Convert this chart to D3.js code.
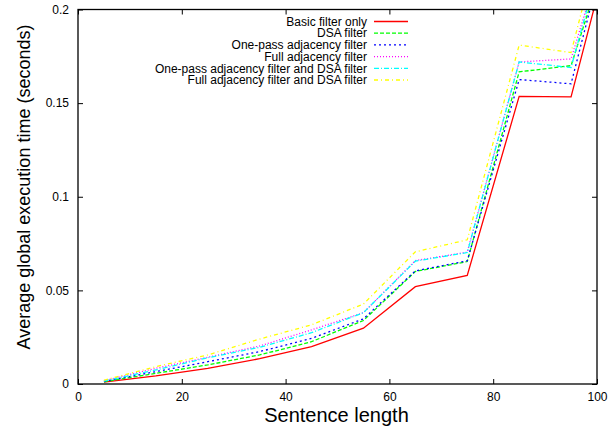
<!DOCTYPE html>
<html>
<head>
<meta charset="utf-8">
<script src="https://cdn.jsdelivr.net/npm/d3@7"></script>
<style>
  body { margin: 0; background: #fff; }
  svg { display: block; font-family: "Liberation Sans", Arial, sans-serif; }
</style>
</head>
<body>
<svg id="chart" width="616" height="428"></svg>
<script>
// sentence length buckets (last one lies past the axis and gets clipped)
const lengths = [5, 15, 25, 35, 45, 55, 65, 75, 85, 95, 105];

const basic = [0.0010, 0.0043, 0.0084, 0.0135, 0.0200, 0.0298, 0.0520, 0.0580, 0.1536, 0.1533, 0.260];
const dsa = [0.0012, 0.0057, 0.0102, 0.0155, 0.0226, 0.0339, 0.0601, 0.0654, 0.1667, 0.1700, 0.257];
const onePass = [0.0014, 0.0066, 0.0119, 0.0173, 0.0244, 0.0348, 0.0604, 0.0658, 0.1626, 0.1603, 0.269];
const fullAdj = [0.0018, 0.0084, 0.0143, 0.0203, 0.0289, 0.0381, 0.0659, 0.0704, 0.1720, 0.1736, 0.265];
const onePassDsa = [0.0016, 0.0075, 0.0140, 0.0196, 0.0274, 0.0381, 0.0656, 0.0702, 0.1720, 0.1690, 0.270];
const fullDsa = [0.0020, 0.0093, 0.0155, 0.0240, 0.0316, 0.0427, 0.0706, 0.0770, 0.1810, 0.1770, 0.285];

const seriesNames = [
  'Basic filter only',
  'DSA filter',
  'One-pass adjacency filter',
  'Full adjacency filter',
  'One-pass adjacency filter and DSA filter',
  'Full adjacency filter and DSA filter'
];
const seriesValues = [basic, dsa, onePass, fullAdj, onePassDsa, fullDsa];

const xTicks = [0, 20, 40, 60, 80, 100];
const yTicks = [0, 0.05, 0.1, 0.15, 0.2];

// gnuplot-ish line styles
const colors = ['#ff0000', '#00ff00', '#0000ff', '#ff00ff', '#00ffff', '#ffff00'];
const dashes = [null, '4,2', '2,3', '1,2', '5,2,1,2', '4,3,1,3'];

const svg = d3.select('#chart');
const margin = { left: 78, right: 19, top: 9.5, bottom: 44 };
const W = 616, H = 428;

const x = d3.scaleLinear().domain([0, 100]).range([margin.left, W - margin.right]);
const y = d3.scaleLinear().domain([0, 0.2]).range([H - margin.bottom, margin.top]);

svg.append('clipPath').attr('id', 'plotclip')
  .append('rect')
  .attr('x', x(0)).attr('y', y(0.2))
  .attr('width', x(100) - x(0)).attr('height', y(0) - y(0.2));

// data lines
const line = d3.line().x(d => x(d[0])).y(d => y(d[1]));
const plot = svg.append('g').attr('clip-path', 'url(#plotclip)');
seriesValues.forEach((vals, i) => {
  plot.append('path')
    .datum(lengths.map((l, j) => [l, vals[j]]))
    .attr('fill', 'none')
    .attr('stroke', colors[i])
    .attr('stroke-width', 1.3)
    .attr('stroke-dasharray', dashes[i])
    .attr('d', line);
});

// axes: ticks inward on all four sides
const tickLen = 5;
svg.append('g')
  .attr('transform', `translate(0,${y(0)})`)
  .call(d3.axisBottom(x).tickValues(xTicks).tickSizeInner(-tickLen).tickSizeOuter(0).tickPadding(8))
  .call(g => g.select('.domain').remove());
svg.append('g')
  .attr('transform', `translate(0,${y(0.2)})`)
  .call(d3.axisTop(x).tickValues(xTicks).tickSizeInner(-tickLen).tickSizeOuter(0).tickFormat(''))
  .call(g => g.select('.domain').remove());
svg.append('g')
  .attr('transform', `translate(${x(0)},0)`)
  .call(d3.axisLeft(y).tickValues(yTicks).tickSizeInner(-tickLen).tickSizeOuter(0).tickPadding(9)
    .tickFormat(d => d3.format('~g')(d)))
  .call(g => g.select('.domain').remove());
svg.append('g')
  .attr('transform', `translate(${x(100)},0)`)
  .call(d3.axisRight(y).tickValues(yTicks).tickSizeInner(-tickLen).tickSizeOuter(0).tickFormat(''))
  .call(g => g.select('.domain').remove());

svg.selectAll('.tick text').attr('font-size', 12).attr('fill', '#000')
  .attr('font-family', '"Liberation Sans", Arial, sans-serif');
svg.selectAll('.tick line').attr('stroke', '#000');

svg.append('rect')
  .attr('x', x(0)).attr('y', y(0.2))
  .attr('width', x(100) - x(0)).attr('height', y(0) - y(0.2))
  .attr('fill', 'none').attr('stroke', '#000').attr('stroke-width', 1.3);

// axis titles
svg.append('text')
  .attr('x', (x(0) + x(100)) / 2 - 1).attr('y', 422)
  .attr('text-anchor', 'middle').attr('font-size', 20)
  .text('Sentence length');
svg.append('text')
  .attr('transform', 'translate(30,187) rotate(-90)')
  .attr('text-anchor', 'middle').attr('font-size', 18)
  .text('Average global execution time (seconds)');

// legend
const legend = svg.append('g');
seriesNames.forEach((name, i) => {
  const ly = 21.5 + i * 11.7;
  legend.append('text')
    .attr('x', 367).attr('y', ly).attr('dy', '0.35em')
    .attr('text-anchor', 'end').attr('font-size', 12)
    .text(name);
  legend.append('line')
    .attr('x1', 374).attr('x2', 408).attr('y1', ly).attr('y2', ly)
    .attr('stroke', colors[i]).attr('stroke-width', 1.3)
    .attr('stroke-dasharray', dashes[i]);
});
</script>
</body>
</html>
